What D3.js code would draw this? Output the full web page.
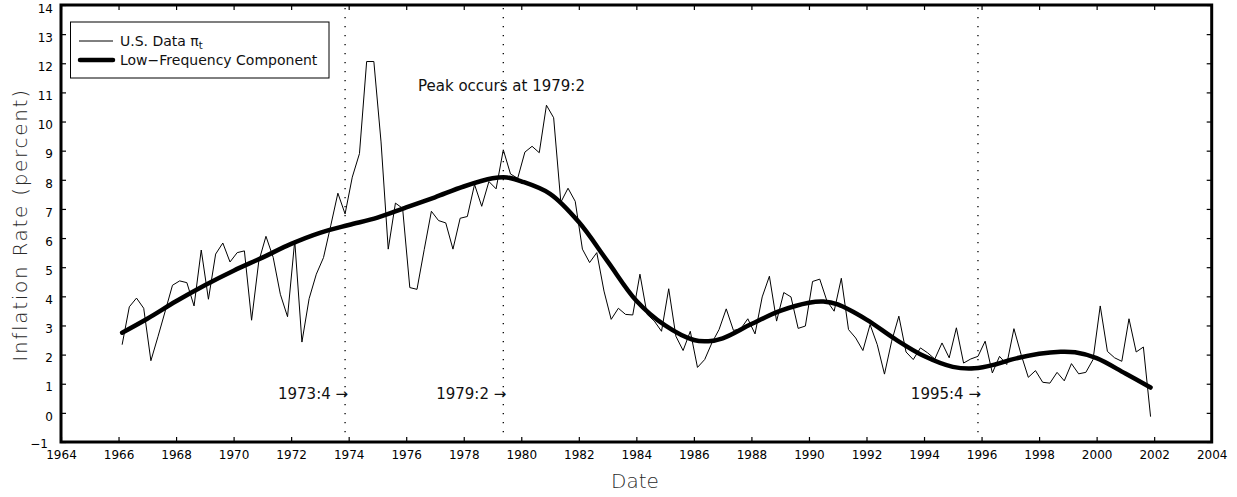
<!DOCTYPE html>
<html>
<head>
<meta charset="utf-8">
<script src="https://cdn.jsdelivr.net/npm/d3@7"></script>
<style>
  body { margin: 0; background: #fff; }
  svg { display: block; font-family: "DejaVu Sans", sans-serif; }
</style>
</head>
<body>
<script>
// quarterly U.S. inflation, 1966:1 .. 2001:4 (one row per year)
const firstYear = 1966;
const inflation = [
    2.34, 3.64, 3.94, 3.59,   // 1966
    1.79, 2.63, 3.50, 4.38,   // 1967
    4.53, 4.47, 3.67, 5.59,   // 1968
    3.90, 5.45, 5.83, 5.18,   // 1969
    5.50, 5.56, 3.18, 5.20,   // 1970
    6.06, 5.34, 4.07, 3.30,   // 1971
    5.91, 2.43, 3.92, 4.76,   // 1972
    5.33, 6.42, 7.54, 6.83,   // 1973
    8.09, 8.90, 12.06, 12.06, // 1974
    9.30, 5.62, 7.20, 7.02,   // 1975
    4.30, 4.24, 5.60, 6.92,   // 1976
    6.60, 6.52, 5.62, 6.68,   // 1977
    6.74, 7.84, 7.09, 7.94,   // 1978
    7.69, 9.03, 8.20, 8.05,   // 1979
    8.95, 9.15, 8.93, 10.56,  // 1980
    10.13, 7.23, 7.71, 7.26,  // 1981
    5.62, 5.16, 5.50, 4.18,   // 1982
    3.21, 3.59, 3.38, 3.36,   // 1983
    4.76, 3.38, 3.15, 2.80,   // 1984
    4.26, 2.63, 2.14, 2.80,   // 1985
    1.56, 1.83, 2.40, 2.86,   // 1986
    3.57, 2.83, 2.88, 3.23,   // 1987
    2.71, 3.98, 4.69, 3.15,   // 1988
    4.13, 3.98, 2.90, 2.98,   // 1989
    4.51, 4.59, 3.84, 3.49,   // 1990
    4.62, 2.86, 2.57, 2.14,   // 1991
    3.03, 2.34, 1.33, 2.46,   // 1992
    3.32, 2.09, 1.83, 2.23,   // 1993
    2.06, 1.85, 2.40, 1.89,   // 1994
    2.92, 1.71, 1.85, 1.94,   // 1995
    2.46, 1.37, 1.94, 1.66,   // 1996
    2.89, 2.00, 1.22, 1.45,   // 1997
    1.05, 1.02, 1.39, 1.10,   // 1998
    1.69, 1.34, 1.39, 1.83,   // 1999
    3.67, 2.11, 1.89, 1.77,   // 2000
    3.23, 2.09, 2.26, -0.13   // 2001
];

const trendDates = [1966.125, 1967, 1968, 1969, 1970, 1971, 1972, 1973, 1974, 1975, 1976, 1977, 1978,
    1979, 1979.5, 1980, 1981, 1982, 1983, 1984, 1985, 1986, 1986.5, 1987, 1988, 1989, 1990, 1990.5,
    1991, 1992, 1993, 1994, 1995, 1995.75, 1996.5, 1997, 1998, 1998.75, 1999.25, 2000, 2001, 2001.875];
const trendValues = [2.75, 3.23, 3.83, 4.38, 4.88, 5.33, 5.80, 6.18, 6.45, 6.70, 7.05, 7.40, 7.77,
    8.05, 8.08, 7.95, 7.52, 6.55, 5.20, 3.85, 3.00, 2.50, 2.46, 2.56, 3.05, 3.50, 3.78, 3.82,
    3.72, 3.20, 2.53, 1.95, 1.58, 1.53, 1.67, 1.82, 2.03, 2.10, 2.08, 1.88, 1.35, 0.87];

const markers = ["1973:4", "1979:2", "1995:4"];
const xTicks = d3.range(1964, 2005, 2);
const yTicks = d3.range(-1, 15, 1);

const width = 1237, height = 497;
const plotLeft = 61, plotRight = 1211.7, plotTop = 5, plotBottom = 442;

// "1979:2" -> middle of the quarter
const quarterDate = s => { const [yr, q] = s.split(":").map(Number); return yr + (q - 0.5) / 4; };

const x = d3.scaleLinear().domain([1964, 2004]).range([plotLeft, plotRight]);
const y = d3.scaleLinear().domain([-1, 14]).range([plotBottom, plotTop]);

const svg = d3.select("body").append("svg")
    .attr("width", width)
    .attr("height", height);

// ticks on all four sides, pointing inward
svg.append("g")
    .attr("transform", "translate(0," + plotBottom + ")")
    .call(d3.axisBottom(x).tickValues(xTicks).tickFormat(d3.format("d"))
        .tickSizeInner(-5).tickSizeOuter(0).tickPadding(8))
    .call(g => g.select(".domain").remove())
    .call(g => g.selectAll("text").attr("font-size", 12).attr("font-family", "DejaVu Sans").attr("fill", "#000"));

svg.append("g")
    .attr("transform", "translate(0," + plotTop + ")")
    .call(d3.axisTop(x).tickValues(xTicks).tickFormat("").tickSizeInner(-5).tickSizeOuter(0))
    .call(g => g.select(".domain").remove());

svg.append("g")
    .attr("transform", "translate(" + plotLeft + ",0)")
    .call(d3.axisLeft(y).tickValues(yTicks).tickFormat(d3.format("d"))
        .tickSizeInner(-5).tickSizeOuter(0).tickPadding(8))
    .call(g => g.select(".domain").remove())
    .call(g => g.selectAll("text").attr("dy", "0.6em").attr("font-size", 12)
        .attr("font-family", "DejaVu Sans").attr("fill", "#000"))
    // the lowest label sits left of the 1964 label
    .call(g => g.selectAll("text").filter(d => d === -1).attr("x", -13).attr("dy", "0.45em"));

svg.append("g")
    .attr("transform", "translate(" + plotRight + ",0)")
    .call(d3.axisRight(y).tickValues(yTicks).tickFormat("").tickSizeInner(-5).tickSizeOuter(0))
    .call(g => g.select(".domain").remove());

svg.selectAll(".tick line").attr("stroke", "#000").attr("stroke-width", 1.2);

// dotted date markers
svg.append("g").selectAll("line")
    .data(markers)
    .join("line")
    .attr("x1", d => x(quarterDate(d)))
    .attr("x2", d => x(quarterDate(d)))
    .attr("y1", plotTop + 3)
    .attr("y2", plotBottom - 3)
    .attr("stroke", "#000")
    .attr("stroke-width", 1.3)
    .attr("stroke-dasharray", "1.3,7.7");

svg.append("g").selectAll("text")
    .data(markers)
    .join("text")
    .attr("x", d => x(quarterDate(d)) + 3)
    .attr("y", 399)
    .attr("text-anchor", "end")
    .attr("font-size", 15)
    .attr("fill", "#111")
    .text(d => d + " \u2192");

svg.append("text")
    .attr("x", 418)
    .attr("y", 91)
    .attr("font-size", 15)
    .attr("fill", "#111")
    .text("Peak occurs at " + markers[1]);

// data
const raw = inflation.map((v, i) => [firstYear + (i + 0.5) / 4, v]);
svg.append("path")
    .datum(raw)
    .attr("fill", "none")
    .attr("stroke", "#000")
    .attr("stroke-width", 1)
    .attr("d", d3.line().x(d => x(d[0])).y(d => y(d[1])));

const trend = trendDates.map((d, i) => [d, trendValues[i]]);
svg.append("path")
    .datum(trend)
    .attr("fill", "none")
    .attr("stroke", "#000")
    .attr("stroke-width", 4.5)
    .attr("stroke-linecap", "round")
    .attr("d", d3.line().curve(d3.curveCatmullRom.alpha(0.5)).x(d => x(d[0])).y(d => y(d[1])));

// frame
svg.append("rect")
    .attr("x", plotLeft)
    .attr("y", plotTop)
    .attr("width", plotRight - plotLeft)
    .attr("height", plotBottom - plotTop)
    .attr("fill", "none")
    .attr("stroke", "#000")
    .attr("stroke-width", 3);

// legend
const legend = svg.append("g");
legend.append("rect")
    .attr("x", 70.5).attr("y", 22)
    .attr("width", 258.5).attr("height", 56)
    .attr("fill", "#fff").attr("stroke", "#000").attr("stroke-width", 1);
legend.append("line")
    .attr("x1", 79).attr("x2", 113).attr("y1", 41).attr("y2", 41)
    .attr("stroke", "#000").attr("stroke-width", 1);
legend.append("line")
    .attr("x1", 80).attr("x2", 113).attr("y1", 60).attr("y2", 60)
    .attr("stroke", "#000").attr("stroke-width", 4.5).attr("stroke-linecap", "round");
const lbl1 = legend.append("text")
    .attr("x", 120).attr("y", 46)
    .attr("font-size", 14).attr("fill", "#111");
lbl1.append("tspan").text("U.S. Data \u03c0");
lbl1.append("tspan").attr("font-size", 10).attr("dy", 3).text("t");
legend.append("text")
    .attr("x", 120).attr("y", 65)
    .attr("font-size", 14).attr("fill", "#111")
    .text("Low\u2212Frequency Component");

// axis titles
svg.append("text")
    .attr("x", 635)
    .attr("y", 488)
    .attr("text-anchor", "middle")
    .attr("font-size", 20)
    .attr("font-weight", 300)
    .attr("fill", "#2a2a2a")
    .text("Date");

svg.append("text")
    .attr("transform", "translate(27,225) rotate(-90)")
    .attr("text-anchor", "middle")
    .attr("font-size", 20)
    .attr("font-weight", 300)
    .attr("letter-spacing", 1.7)
    .attr("fill", "#2a2a2a")
    .text("Inflation Rate (percent)");
</script>
</body>
</html>
